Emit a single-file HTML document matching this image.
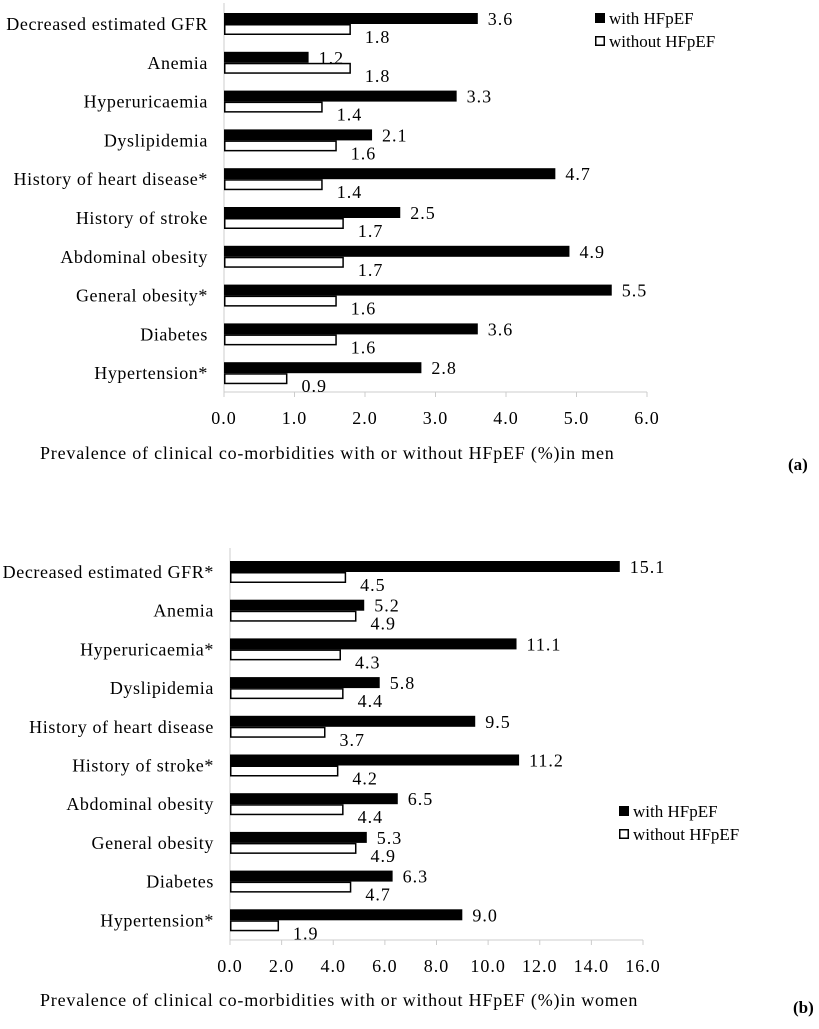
<!DOCTYPE html>
<html><head><meta charset="utf-8"><style>
body{margin:0;background:#fff;}
svg text{font-family:"Liberation Serif",serif;fill:#000;}
</style></head><body>
<svg width="819" height="1024" viewBox="0 0 819 1024">
<g id="ca"></g>
<g id="cb"></g>
<text x="40" y="459" font-size="18" letter-spacing="0.8">Prevalence of clinical co-morbidities with or without  HFpEF (%)in men</text>
<text x="788" y="470" font-size="17" font-weight="bold">(a)</text>
<text x="40" y="1006" font-size="18" letter-spacing="0.8">Prevalence of clinical co-morbidities with or without  HFpEF (%)in women</text>
<text x="793" y="1013" font-size="17" font-weight="bold">(b)</text>
</svg>
<script>
const catsA=["Decreased estimated GFR","Anemia","Hyperuricaemia","Dyslipidemia","History of heart disease*","History of stroke","Abdominal obesity","General obesity*","Diabetes","Hypertension*"];
const withA=[3.6,1.2,3.3,2.1,4.7,2.5,4.9,5.5,3.6,2.8];
const withoutA=[1.8,1.8,1.4,1.6,1.4,1.7,1.7,1.6,1.6,0.9];
const ticksA=[0,1,2,3,4,5,6];
const catsB=["Decreased estimated GFR*","Anemia","Hyperuricaemia*","Dyslipidemia","History of heart disease","History of stroke*","Abdominal obesity","General obesity","Diabetes","Hypertension*"];
const withB=[15.1,5.2,11.1,5.8,9.5,11.2,6.5,5.3,6.3,9.0];
const withoutB=[4.5,4.9,4.3,4.4,3.7,4.2,4.4,4.9,4.7,1.9];
const ticksB=[0,2,4,6,8,10,12,14,16];
const NS="http://www.w3.org/2000/svg";
function mk(p,t,a){const e=document.createElementNS(NS,t);for(const k in a)e.setAttribute(k,a[k]);p.appendChild(e);return e;}
function draw(g,o){
  const x=v=>o.x0+(v-o.min)/(o.max-o.min)*(o.x1-o.x0);
  const y=i=>o.yTop+i*o.step;
  const ax=mk(g,'line',{x1:o.x0,x2:o.x0,y1:o.axTop,y2:o.axY,stroke:'#ccc','stroke-width':1});
  
  const bl=mk(g,'line',{x1:o.x0,x2:o.x1,y1:o.axY,y2:o.axY,stroke:'#ccc','stroke-width':1});
  
  o.ticks.forEach(t=>{
    const tk=mk(g,'line',{x1:x(t),x2:x(t),y1:o.axY,y2:o.axY+5,stroke:'#ccc'});
    
    const tl=mk(g,'text',{x:x(t),y:o.axY+32,'font-size':18,'letter-spacing':1,'text-anchor':'middle'});
    tl.textContent=t.toFixed(1);
    
  });
  o.cats.forEach((c,i)=>{
    const yy=y(i);
    const cl=mk(g,'text',{x:o.x0-16,y:yy+17,'font-size':18,'letter-spacing':0.6,'text-anchor':'end'});
    cl.textContent=c;
    
    const b1=mk(g,'rect',{x:o.x0,y:yy,width:x(o.w[i])-o.x0,height:11,fill:'#000'});
    
    const b2=mk(g,'rect',{x:o.x0+0.75,y:yy+11.75,width:x(o.wo[i])-o.x0-1.5,height:9.5,fill:'#fff',stroke:'#000','stroke-width':1.5});
    
    const v1=mk(g,'text',{x:x(o.w[i])+10,y:yy+12,'font-size':18,'letter-spacing':1});
    v1.textContent=o.w[i].toFixed(1);
    
    const v2=mk(g,'text',{x:x(o.wo[i])+14,y:yy+30,'font-size':18,'letter-spacing':1});
    v2.textContent=o.wo[i].toFixed(1);
    
  });
  const l1=mk(g,'rect',{x:o.lx,y:o.ly,width:10,height:10,fill:'#000'});
  
  const t1=mk(g,'text',{x:o.lx+14,y:o.ly+11,'font-size':17});t1.textContent='with HFpEF';
  
  const l2=mk(g,'rect',{x:o.lx+0.75,y:o.ly+23.75,width:8.5,height:8.5,fill:'#fff',stroke:'#000','stroke-width':1.5});
  
  const t2=mk(g,'text',{x:o.lx+14,y:o.ly+34,'font-size':17});t2.textContent='without  HFpEF';
  
}
draw(document.getElementById('ca'),{cats:catsA,w:withA,wo:withoutA,ticks:ticksA,min:0,max:6,x0:224,x1:647,yTop:13,step:38.8,axTop:3,axY:392,lx:595,ly:13});
draw(document.getElementById('cb'),{cats:catsB,w:withB,wo:withoutB,ticks:ticksB,min:0,max:16,x0:230,x1:643,yTop:561,step:38.7,axTop:548,axY:940,lx:619,ly:806});
</script>
</body></html>
